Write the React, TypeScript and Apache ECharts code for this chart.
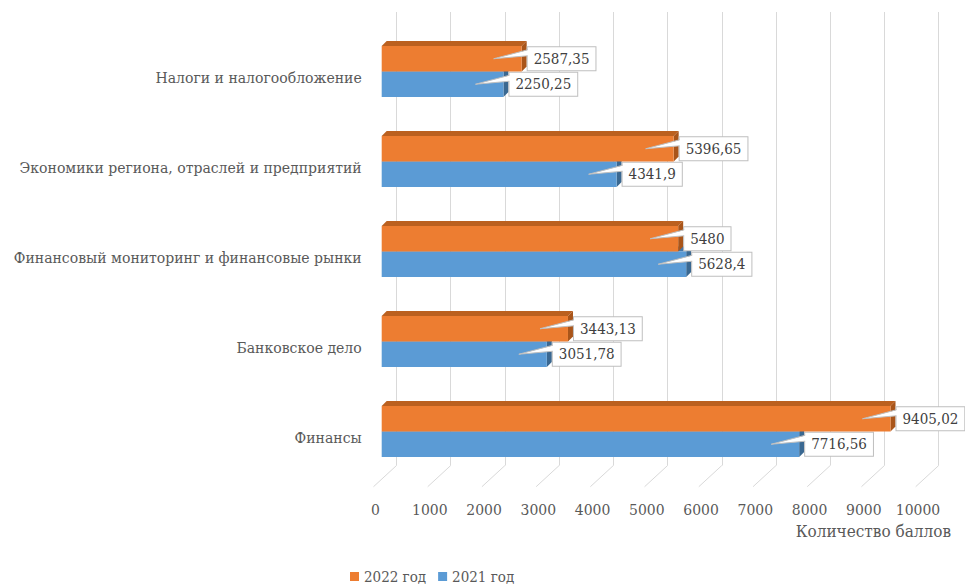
import React, { useEffect, useRef } from "react";
import * as echarts from "echarts";

const categories = [
  "Финансы",
  "Банковское дело",
  "Финансовый мониторинг и финансовые рынки",
  "Экономики региона, отраслей и предприятий",
  "Налоги и налогообложение",
];
const values2022 = [9405.02, 3443.13, 5480, 5396.65, 2587.35];
const values2021 = [7716.56, 3051.78, 5628.4, 4341.9, 2250.25];
const seriesNames = ["2022 год", "2021 год"];
const xTicks = [0, 1000, 2000, 3000, 4000, 5000, 6000, 7000, 8000, 9000, 10000];
const axisTitle = "Количество баллов";

const FONT = "DejaVu Serif Condensed";
const TEXT = "#595959";

const fmt = (v: number) => String(v).replace(".", ",");

function makeBarRender(isUpper: boolean, front: string, top: string, side: string) {
  return (params: any, api: any) => {
    const v = api.value(0);
    const c = api.value(1);
    const p0 = api.coord([0, c]);
    const p1 = api.coord([v, c]);
    const band = api.size([0, 1])[1];
    const h = band * 0.283;
    const yTop = isUpper ? p0[1] - h : p0[1];
    const yBot = yTop + h;
    const x0 = p0[0];
    const x1 = p1[0];
    const d = 5;
    const cy = (yTop + yBot) / 2;
    const boxLeft = x1 + d + 1;
    const tipX = boxLeft - 34;
    return {
      type: "group",
      children: [
        {
          type: "polygon",
          z2: 1,
          shape: { points: [[x0, yTop], [x0 + d, yTop - d], [x1 + d, yTop - d], [x1, yTop]] },
          style: { fill: top },
        },
        {
          type: "polygon",
          z2: 1,
          shape: { points: [[x1, yTop], [x1 + d, yTop - d], [x1 + d, yBot - d], [x1, yBot]] },
          style: { fill: side },
        },
        {
          type: "rect",
          z2: 2,
          shape: { x: x0, y: yTop, width: x1 - x0, height: h },
          style: { fill: front },
        },
        {
          type: "text",
          z2: 10,
          x: boxLeft,
          y: cy,
          style: {
            text: fmt(v),
            fill: "#404040",
            fontSize: 15,
            fontFamily: FONT,
            align: "left",
            verticalAlign: "middle",
            backgroundColor: "#ffffff",
            borderColor: "#bfbfbf",
            borderWidth: 1,
            padding: [4, 6, 4, 6],
          },
        },
        {
          type: "polygon",
          z2: 11,
          shape: { points: [[boxLeft + 1, cy - 9], [tipX, cy], [boxLeft + 1, cy - 3]] },
          style: { fill: "#ffffff" },
        },
        {
          type: "polyline",
          z2: 12,
          shape: { points: [[boxLeft, cy - 9], [tipX, cy], [boxLeft, cy - 3]] },
          style: { stroke: "#bfbfbf", lineWidth: 1, fill: null },
        },
      ],
    };
  };
}

export default function App() {
  const ref = useRef<HTMLDivElement>(null);
  useEffect(() => {
    if (!ref.current) return;
    const chart = echarts.init(ref.current, undefined, { renderer: "svg" });
    const option: any = {
      animation: false,
      backgroundColor: "#ffffff",
      legend: {
        left: 345,
        top: 564,
        itemWidth: 9,
        itemHeight: 9,
        itemGap: 12,
        textStyle: { fontFamily: FONT, fontSize: 15, color: TEXT },
        data: [
          { name: seriesNames[0], icon: "rect" },
          { name: seriesNames[1], icon: "rect" },
        ],
      },
      grid: [
        { left: 381.7, right: 42.3, top: 26.5, bottom: 107.5 },
        { left: 396.5, right: 26.3, top: 12, bottom: 118.5 },
        { left: 375.5, right: 47, top: 100, bottom: 97.3 },
      ],
      xAxis: [
        { gridIndex: 0, type: "value", min: 0, max: 10000, show: false },
        {
          gridIndex: 1,
          type: "value",
          min: 0,
          max: 10000,
          interval: 1000,
          axisLine: { show: false },
          axisTick: { show: false },
          axisLabel: { show: false },
          splitLine: { show: true, lineStyle: { color: "#d9d9d9", width: 1 } },
        },
        {
          gridIndex: 2,
          type: "value",
          min: 0,
          max: 10000,
          interval: 1000,
          axisLine: { show: false },
          axisTick: { show: false },
          splitLine: { show: false },
          axisLabel: {
            show: true,
            margin: 15,
            fontFamily: FONT,
            fontSize: 15.5,
            color: TEXT,
            formatter: (v: number) => String(v),
          },
        },
      ],
      yAxis: [
        {
          gridIndex: 0,
          type: "category",
          data: categories,
          axisLine: { show: false },
          axisTick: { show: false },
          splitLine: { show: false },
          axisLabel: {
            margin: 20,
            fontFamily: FONT,
            fontSize: 15.6,
            color: TEXT,
            verticalAlign: "top",
            lineHeight: 13,
          },
        },
        { gridIndex: 1, type: "value", min: 0, max: 1, show: false },
        { gridIndex: 2, type: "value", min: 0, max: 1, show: false },
      ],
      graphic: [
        {
          type: "text",
          right: 14,
          top: 522,
          style: { text: axisTitle, fill: TEXT, fontSize: 17, fontFamily: FONT },
        },
      ],
      series: [
        {
          type: "custom",
          name: "floor",
          xAxisIndex: 1,
          yAxisIndex: 1,
          z: 1,
          silent: true,
          data: xTicks.map((v) => [v, 0]),
          renderItem: (params: any, api: any) => {
            const p = api.coord([api.value(0), 0]);
            return {
              type: "line",
              shape: { x1: p[0], y1: p[1], x2: p[0] - 23, y2: p[1] + 21.2 },
              style: { stroke: "#d9d9d9", lineWidth: 1 },
            };
          },
        },
        {
          type: "custom",
          name: seriesNames[1],
          xAxisIndex: 0,
          yAxisIndex: 0,
          z: 3,
          itemStyle: { color: "#5B9BD5" },
          data: values2021.map((v, i) => [v, i]),
          renderItem: makeBarRender(false, "#5B9BD5", "#4676a6", "#3a6891"),
        },
        {
          type: "custom",
          name: seriesNames[0],
          xAxisIndex: 0,
          yAxisIndex: 0,
          z: 4,
          itemStyle: { color: "#ED7D31" },
          data: values2022.map((v, i) => [v, i]),
          renderItem: makeBarRender(true, "#ED7D31", "#bb601f", "#a9551a"),
        },
      ],
    };
    chart.setOption(option);
    return () => chart.dispose();
  }, []);
  return (
    <div
      ref={ref}
      style={{ position: "fixed", left: 0, top: 0, width: 965, height: 584 }}
    />
  );
}
